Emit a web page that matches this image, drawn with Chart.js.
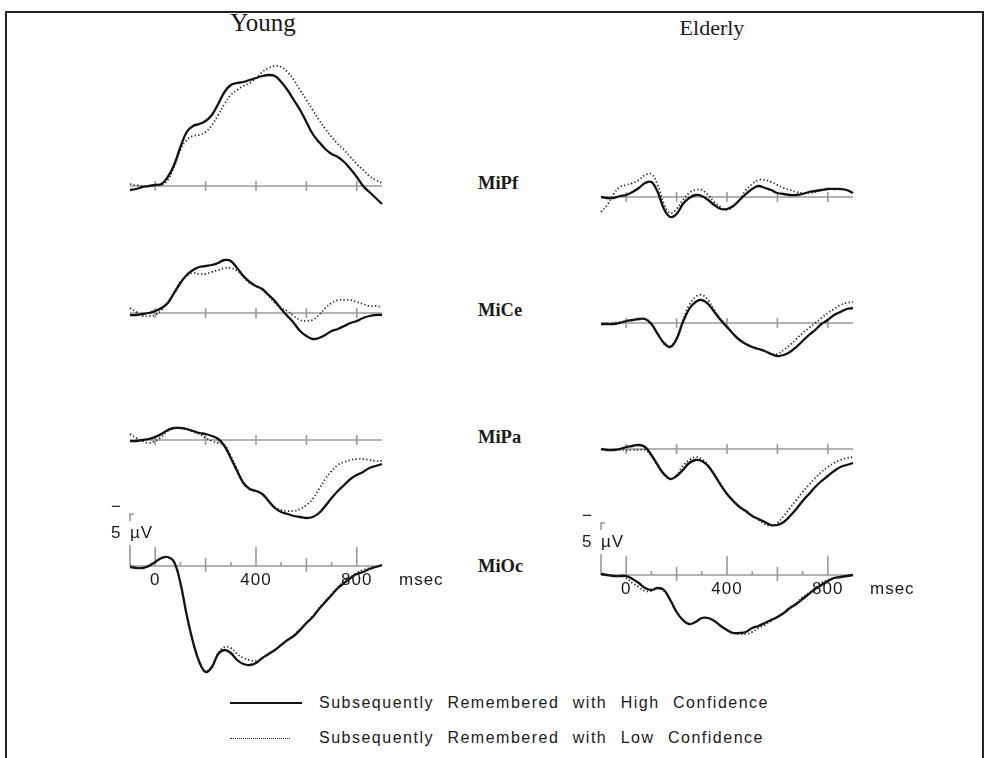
<!DOCTYPE html>
<html>
<head>
<meta charset="utf-8">
<script src="https://cdn.jsdelivr.net/npm/chart.js@4.4.0/dist/chart.umd.min.js"></script>
<style>
  body { margin: 0; background: #fff; width: 988px; height: 758px; position: relative; overflow: hidden; font-family: "Liberation Sans", Arial, sans-serif; color: #1a1a1a; }
  #frame { position: absolute; left: 5px; top: 11px; width: 975px; height: 800px; border: 2px solid #222; border-bottom: none; }
  canvas { position: absolute; }
  .group { position: absolute; font-family: "Liberation Serif", "DejaVu Serif", serif; font-size: 25px; transform: translateX(-50%); white-space: nowrap; }
  .site { position: absolute; font-family: "Liberation Serif", "DejaVu Serif", serif; font-size: 18.5px; font-weight: bold; left: 478px; transform: translateY(-50%); }
  .leg { position: absolute; left: 230px; height: 20px; display: flex; align-items: center; font-size: 16px; letter-spacing: 1.5px; word-spacing: 7.5px; white-space: nowrap; }
  .sw { display: inline-block; width: 72px; margin-right: 17px; }
</style>
</head>
<body>
<div id="frame"></div>
<div class="group" style="left:263px; top:9px;">Young</div>
<div class="group" style="left:712px; top:15px; font-size:22px;">Elderly</div>
<div class="site" style="top:183px;">MiPf</div>
<div class="site" style="top:310px;">MiCe</div>
<div class="site" style="top:437px;">MiPa</div>
<div class="site" style="top:566px;">MiOc</div>
<div class="leg" style="top:693px;"><span class="sw" style="border-top:2px solid #111;"></span><span id="lab0"></span></div>
<div class="leg" style="top:728px;"><span class="sw" style="border-top:1.5px dotted #222; width:60px; margin-right:29px;"></span><span id="lab1"></span></div>

<script>
// time points (ms)
const times = [-100, -75, -50, -25, 0, 25, 50, 75, 100, 125, 150, 175, 200, 225, 250, 275, 300, 325, 350, 375,
  400, 425, 450, 475, 500, 525, 550, 575, 600, 625, 650, 675, 700, 725, 750, 775, 800, 825, 850, 875, 900];

const seriesLabels = ['Subsequently Remembered with High Confidence', 'Subsequently Remembered with Low Confidence'];
const tickValues = [0, 400, 800];
const tickLabels = ['0', '400', '800'];

// amplitudes in µV (negative plotted up)
const youngMiPfHigh = [0.4, 0.3, 0.1, 0, -0.1, -0.2, -0.9, -2.1, -3.9, -5.4, -6.0, -6.2, -6.5, -7.1, -8.2, -9.4, -10.1, -10.3, -10.4, -10.6,
  -10.8, -11.0, -11.1, -11.0, -10.4, -9.6, -8.6, -7.6, -6.4, -5.2, -4.4, -3.7, -3.2, -2.9, -2.4, -1.7, -0.9, 0, 0.6, 1.2, 1.8];
const youngMiPfLow = [-0.2, -0.1, 0, 0, -0.1, -0.1, -0.6, -1.9, -3.6, -4.6, -5.0, -5.1, -5.4, -6.1, -7.1, -8.2, -9.1, -9.6, -10.0, -10.3,
  -10.8, -11.4, -11.8, -12.0, -11.9, -11.4, -10.6, -9.6, -8.6, -7.6, -6.6, -5.7, -4.9, -4.2, -3.6, -2.9, -2.2, -1.6, -1.0, -0.6, -0.3];

const youngMiCeHigh = [0.2, 0.2, 0.1, 0, -0.2, -0.5, -1.0, -2.0, -3.0, -3.8, -4.3, -4.6, -4.7, -4.8, -5.0, -5.3, -5.2, -4.5, -3.7, -3.1,
  -2.7, -2.4, -1.8, -1.2, -0.4, 0.3, 1.0, 1.8, 2.3, 2.6, 2.5, 2.2, 1.8, 1.6, 1.3, 1.0, 0.8, 0.5, 0.3, 0.2, 0.2];
const youngMiCeLow = [-0.5, -0.1, 0.3, 0.3, 0.2, -0.3, -1.1, -2.1, -3.1, -3.7, -4.0, -3.9, -3.9, -4.1, -4.3, -4.5, -4.5, -4.2, -3.6, -3.0,
  -2.7, -2.3, -1.7, -1.0, -0.5, -0.2, 0.3, 0.7, 0.8, 0.7, 0.2, -0.5, -1.0, -1.3, -1.3, -1.3, -1.1, -0.9, -0.7, -0.7, -0.6];

const youngMiPaHigh = [0.1, 0.1, 0, -0.1, -0.3, -0.6, -1.0, -1.2, -1.2, -1.1, -0.9, -0.7, -0.6, -0.4, -0.1, 0.6, 1.8, 3.1, 4.3, 4.9,
  5.1, 5.4, 6.1, 6.8, 7.2, 7.4, 7.6, 7.7, 7.8, 7.7, 7.3, 6.6, 5.8, 5.1, 4.5, 3.9, 3.5, 3.2, 2.8, 2.6, 2.4];
const youngMiPaLow = [-0.6, -0.2, 0.1, 0.3, 0.1, -0.3, -0.9, -1.2, -1.2, -1.1, -0.8, -0.6, -0.2, 0.1, 0.3, 0.5, 1.6, 2.9, 4.2, 4.9,
  5.1, 5.4, 6.1, 6.7, 7.0, 7.1, 7.1, 6.9, 6.5, 5.9, 4.9, 3.9, 3.1, 2.5, 2.2, 2.0, 1.9, 1.9, 2.0, 2.1, 2.1];

const youngMiOcHigh = [0.1, 0.2, 0.2, 0, -0.4, -0.8, -0.9, -0.4, 1.7, 4.9, 7.6, 9.6, 10.6, 10.1, 8.8, 8.4, 8.7, 9.4, 9.8, 9.9,
  9.7, 9.2, 8.8, 8.4, 7.9, 7.4, 7.0, 6.4, 5.7, 5.1, 4.3, 3.6, 2.9, 2.2, 1.7, 1.2, 0.8, 0.6, 0.3, 0.1, -0.1];
const youngMiOcLow = [0, 0.2, 0.2, 0, -0.4, -0.8, -0.9, -0.4, 1.7, 4.9, 7.5, 9.5, 10.5, 10.0, 8.7, 8.1, 8.2, 8.8, 9.2, 9.4,
  9.5, 9.2, 8.8, 8.4, 7.9, 7.4, 6.9, 6.3, 5.7, 5.0, 4.2, 3.5, 2.8, 2.1, 1.5, 1.1, 0.7, 0.4, 0.2, 0.1, 0];

const elderlyMiPfHigh = [0, 0.1, 0.1, -0.1, -0.2, -0.5, -0.9, -1.4, -1.5, -0.5, 1.2, 2.0, 1.7, 0.7, 0.1, -0.2, -0.1, 0.3, 0.8, 1.2,
  1.2, 0.9, 0.3, -0.3, -0.8, -1.1, -0.9, -0.7, -0.4, -0.3, -0.2, -0.2, -0.3, -0.5, -0.6, -0.7, -0.8, -0.8, -0.8, -0.7, -0.4];
const elderlyMiPfLow = [1.5, 0.8, -0.3, -1.0, -1.2, -1.4, -1.7, -2.2, -2.3, -1.2, 0.7, 1.6, 1.2, 0.3, -0.4, -0.7, -0.7, -0.2, 0.5, 1.0,
  1.3, 0.9, 0.3, -0.7, -1.3, -1.7, -1.7, -1.5, -1.2, -0.9, -0.7, -0.5, -0.4, -0.4, -0.5, -0.7, -0.8, -0.8, -0.8, -0.7, -0.4];

const elderlyMiCeHigh = [0.1, 0.1, 0.1, 0, -0.2, -0.3, -0.4, -0.4, 0.1, 1.1, 2.0, 2.4, 1.6, -0.1, -1.4, -2.1, -2.3, -1.9, -1.1, -0.3,
  0.4, 1.1, 1.7, 2.1, 2.4, 2.6, 2.8, 3.1, 3.3, 3.2, 2.9, 2.4, 1.8, 1.2, 0.7, 0.1, -0.3, -0.8, -1.1, -1.4, -1.5];
const elderlyMiCeLow = [0.1, 0.1, 0, -0.1, -0.2, -0.3, -0.4, -0.4, 0.1, 1.1, 2.1, 2.3, 1.5, -0.3, -1.8, -2.6, -2.8, -2.3, -1.3, -0.4,
  0.3, 1.1, 1.7, 2.1, 2.4, 2.6, 2.8, 3.1, 3.1, 2.7, 2.2, 1.6, 1.0, 0.5, 0, -0.5, -1.0, -1.4, -1.8, -2.0, -2.1];

const elderlyMiPaHigh = [0, 0.1, 0.1, 0, -0.2, -0.3, -0.4, -0.2, 0.6, 1.6, 2.5, 3.0, 2.7, 2.1, 1.4, 1.1, 1.2, 1.7, 2.6, 3.6,
  4.5, 5.2, 5.8, 6.2, 6.7, 7.0, 7.3, 7.6, 7.6, 7.3, 6.7, 6.0, 5.2, 4.5, 3.8, 3.2, 2.7, 2.2, 1.8, 1.6, 1.4];
const elderlyMiPaLow = [0, 0.1, 0.1, 0.1, 0.1, 0.1, 0.1, 0.1, 0.7, 1.7, 2.6, 3.0, 2.6, 1.7, 1.1, 0.8, 1.0, 1.6, 2.5, 3.5,
  4.5, 5.2, 5.8, 6.3, 6.7, 7.1, 7.5, 7.7, 7.4, 6.7, 5.9, 5.1, 4.3, 3.6, 2.9, 2.3, 1.8, 1.4, 1.1, 0.9, 0.8];

const elderlyMiOcHigh = [-0.1, 0, 0.1, 0.1, 0.1, 0.4, 0.8, 1.3, 1.5, 1.3, 1.5, 2.5, 3.7, 4.5, 4.9, 4.7, 4.3, 4.3, 4.6, 5.1,
  5.5, 5.8, 5.8, 5.7, 5.3, 5.1, 4.8, 4.5, 4.2, 3.8, 3.3, 2.9, 2.4, 1.9, 1.4, 1.0, 0.6, 0.3, 0.2, 0.1, 0];
const elderlyMiOcLow = [-0.1, 0, 0.1, 0.1, 0.3, 0.8, 1.2, 1.6, 1.6, 1.3, 1.6, 2.6, 3.7, 4.5, 4.9, 4.7, 4.3, 4.3, 4.6, 5.1,
  5.5, 5.8, 5.9, 5.9, 5.7, 5.3, 5.0, 4.6, 4.2, 3.8, 3.2, 2.8, 2.2, 1.8, 1.3, 0.8, 0.5, 0.3, 0.2, 0.1, 0];

document.getElementById('lab0').textContent = seriesLabels[0];
document.getElementById('lab1').textContent = seriesLabels[1];

// layout (page pixels)
const PLOT_W = 252;      // -100..900 ms
const PAD_L = 40, PAD_R = 70;
const PX_PER_UV = 10;

const panels = [
  { left: 130, base: 186, top: 50,  bottom: 215, high: youngMiPfHigh, low: youngMiPfLow },
  { left: 130, base: 313, top: 240, bottom: 345, high: youngMiCeHigh, low: youngMiCeLow },
  { left: 130, base: 440, top: 400, bottom: 525, high: youngMiPaHigh, low: youngMiPaLow },
  { left: 130, base: 566, top: 495, bottom: 690, high: youngMiOcHigh, low: youngMiOcLow, axis: true },
  { left: 601, base: 197, top: 150, bottom: 230, high: elderlyMiPfHigh, low: elderlyMiPfLow },
  { left: 601, base: 323, top: 260, bottom: 370, high: elderlyMiCeHigh, low: elderlyMiCeLow },
  { left: 601, base: 449, top: 405, bottom: 540, high: elderlyMiPaHigh, low: elderlyMiPaLow },
  { left: 601, base: 575, top: 500, bottom: 650, high: elderlyMiOcHigh, low: elderlyMiOcLow, axis: true }
];

// baseline, ticks, time labels and the 5 µV bar
const erpAxis = {
  id: 'erpAxis',
  beforeDatasetsDraw(chart, args, opts) {
    const ctx = chart.ctx, xs = chart.scales.x, ys = chart.scales.y;
    const y0 = ys.getPixelForValue(0);
    ctx.save();
    ctx.strokeStyle = '#9a9a9a';
    ctx.lineWidth = 1.6;
    ctx.beginPath();
    ctx.moveTo(xs.getPixelForValue(-100), y0);
    ctx.lineTo(xs.getPixelForValue(900), y0);
    for (let t = 0; t <= 800; t += opts.axis ? 100 : 200) {
      const x = xs.getPixelForValue(t);
      let up = 5, down = 5;
      if (opts.axis) {
        if (t % 400 === 0) { up = 19; down = 0; }
        else if (t % 200 === 0) { up = 8; down = 6; }
        else { up = 4; down = 0; }
      }
      ctx.moveTo(x, y0 - up);
      ctx.lineTo(x, y0 + down);
    }
    ctx.stroke();
    if (opts.axis) {
      const xb = xs.getPixelForValue(-100);
      ctx.beginPath();
      ctx.moveTo(xb, y0);
      ctx.lineTo(xb, ys.getPixelForValue(-2.1));
      ctx.moveTo(xb, ys.getPixelForValue(-4.5));
      ctx.lineTo(xb, ys.getPixelForValue(-5.2));
      ctx.lineTo(xb + 4, ys.getPixelForValue(-5.2));
      ctx.stroke();
    }
    ctx.restore();
  },
  afterDraw(chart, args, opts) {
    if (!opts.axis) return;
    const ctx = chart.ctx, xs = chart.scales.x, ys = chart.scales.y;
    const y0 = ys.getPixelForValue(0);
    ctx.save();
    ctx.fillStyle = '#1a1a1a';
    ctx.font = '17px "Liberation Sans", Arial, sans-serif';
    if ('letterSpacing' in ctx) ctx.letterSpacing = '1px';
    ctx.textBaseline = 'middle';
    ctx.textAlign = 'center';
    tickValues.forEach((t, i) => ctx.fillText(tickLabels[i], xs.getPixelForValue(t), y0 + 14));
    ctx.textAlign = 'left';
    ctx.fillText('msec', xs.getPixelForValue(900) + 17, y0 + 14);
    const xb = xs.getPixelForValue(-100);
    ctx.fillText('5', xb - 19, ys.getPixelForValue(-3.3));
    ctx.fillText('\u00b5V', xb, ys.getPixelForValue(-3.3));
    ctx.fillText('\u2212', xb - 19, ys.getPixelForValue(-5.9));
    ctx.restore();
  }
};

panels.forEach(p => {
  const c = document.createElement('canvas');
  const w = PAD_L + PLOT_W + PAD_R, h = p.bottom - p.top;
  c.width = w; c.height = h;
  c.style.left = (p.left - PAD_L) + 'px';
  c.style.top = p.top + 'px';
  c.style.width = w + 'px'; c.style.height = h + 'px';
  document.body.appendChild(c);

  new Chart(c, {
    type: 'line',
    data: {
      datasets: [
        { label: seriesLabels[1], data: times.map((t, i) => ({ x: t, y: p.low[i] })),
          borderColor: '#222', borderWidth: 1.7, borderDash: [1.3, 2.3], pointRadius: 0, tension: 0.4, clip: false },
        { label: seriesLabels[0], data: times.map((t, i) => ({ x: t, y: p.high[i] })),
          borderColor: '#111', borderWidth: 2.3, pointRadius: 0, tension: 0.4, clip: false }
      ]
    },
    options: {
      responsive: false,
      animation: false,
      events: [],
      layout: { padding: { left: PAD_L, right: PAD_R, top: 0, bottom: 0 } },
      scales: {
        x: { type: 'linear', min: -100, max: 900, display: false },
        y: { min: (p.top - p.base) / PX_PER_UV, max: (p.bottom - p.base) / PX_PER_UV, reverse: true, display: false }
      },
      plugins: { legend: { display: false }, tooltip: { enabled: false }, erpAxis: { axis: !!p.axis } }
    },
    plugins: [erpAxis]
  });
});
</script>
</body>
</html>
